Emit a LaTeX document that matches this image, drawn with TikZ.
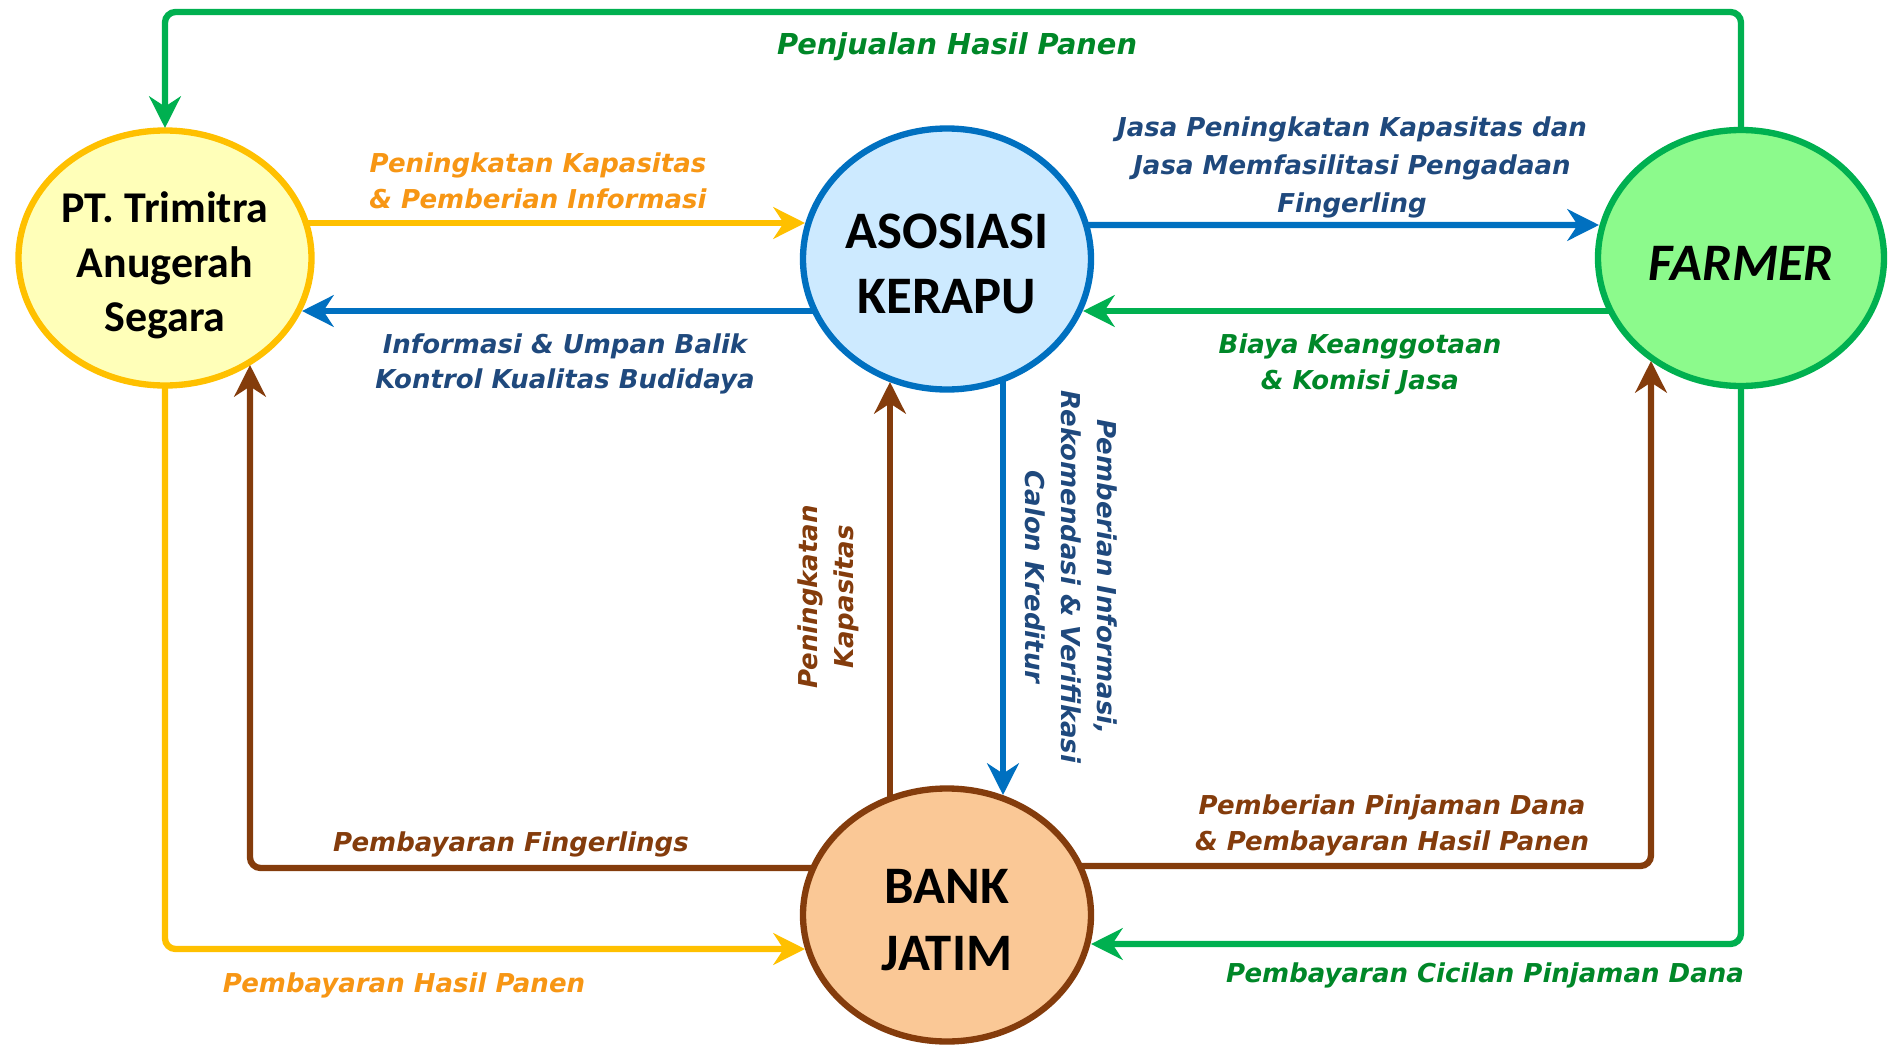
\documentclass[tikz,border=0pt]{standalone}
\usepackage{fontspec}
\setmainfont{Carlito}
\newfontfamily\flowfont{DejaVu Sans}
\usetikzlibrary{shapes,arrows.meta,positioning,calc}
\definecolor{ptyellow}{RGB}{255,192,0}
\definecolor{ptfill}{RGB}{255,255,185}
\definecolor{ptorange}{RGB}{247,150,20}
\definecolor{asblue}{RGB}{0,112,192}
\definecolor{asfill}{RGB}{205,234,255}
\definecolor{astext}{RGB}{31,73,125}
\definecolor{fmgreen}{RGB}{0,176,80}
\definecolor{fmfill}{RGB}{140,250,140}
\definecolor{fmtext}{RGB}{0,135,40}
\definecolor{bkbrown}{RGB}{132,60,12}
\definecolor{bkfill}{RGB}{250,200,150}
\tikzstyle{party} = [ellipse, draw, line width=1.8pt, inner sep=0pt,
  text centered, align=center, font=\bfseries\fontsize{15}{18.5}\selectfont]
\tikzstyle{flow} = [draw, line width=1.8pt, rounded corners=3pt,
  -{Stealth[length=9pt,width=9pt]}]
\tikzstyle{flowlabel} = [inner sep=0pt, align=center,
  font=\flowfont\bfseries\itshape\fontsize{7.4}{10.2}\selectfont]

\begin{document}
\begin{tikzpicture}

  \useasboundingbox (0,0) rectangle (18.9,-10.45);

  %%%%%%%%%%%%%%%%%%%%%%%%%%%%%%%%%%%%%%%%%%%%%%%%%%%%%%%%%%%%%%
  %                    PARTIES                                 %
  %%%%%%%%%%%%%%%%%%%%%%%%%%%%%%%%%%%%%%%%%%%%%%%%%%%%%%%%%%%%%%

  \node [party, draw=ptyellow, fill=ptfill, minimum width=2.93cm, minimum height=2.55cm,
    font=\bfseries\fontsize{12.5}{15.6}\selectfont] (pt) at (1.65,-2.58) {\rule{0pt}{13pt}PT. Trimitra\\Anugerah\\Segara};
  \node [party, draw=asblue, fill=asfill, minimum width=2.88cm, minimum height=2.61cm] (asosiasi) at (9.47,-2.59) {\rule{0pt}{12.5pt}ASOSIASI\\KERAPU};
  \node [party, draw=fmgreen, fill=fmfill, minimum width=2.86cm, minimum height=2.56cm,
    font=\bfseries\itshape\fontsize{15}{18}\selectfont] (farmer) at (17.41,-2.58) {\rule{0pt}{13pt}FARMER};
  \node [party, draw=bkbrown, fill=bkfill, minimum width=2.88cm, minimum height=2.53cm,
    font=\bfseries\fontsize{15}{19.2}\selectfont] (bank) at (9.47,-9.15) {\rule{0pt}{12.5pt}BANK\\JATIM};

  %%%%%%%%%%%%%%%%%%%%%%%%%%%%%%%%%%%%%%%%%%%%%%%%%%%%%%%%%%%%%%
  %                    FLOWS                                   %
  %%%%%%%%%%%%%%%%%%%%%%%%%%%%%%%%%%%%%%%%%%%%%%%%%%%%%%%%%%%%%%

  \draw[flow, fmgreen] ($(farmer.center)+(0,1.28)$) |- (9,-0.12) -| ($(pt.center)+(0,1.30)$);
  \draw[flow, ptyellow] ($(pt.center)+(1.41,0.35)$) -- ($(asosiasi.center)+(-1.42,0.36)$);
  \draw[flow, asblue] ($(asosiasi.center)+(-1.32,-0.52)$) -- ($(pt.center)+(1.37,-0.53)$);
  \draw[flow, asblue] ($(asosiasi.center)+(1.39,0.34)$) -- ($(farmer.center)+(-1.42,0.33)$);
  \draw[flow, fmgreen] ($(farmer.center)+(-1.30,-0.53)$) -- ($(asosiasi.center)+(1.36,-0.52)$);
  \draw[flow, asblue] ($(asosiasi.center)+(0.56,-1.20)$) -- ($(bank.center)+(0.56,1.20)$);
  \draw[flow, bkbrown] ($(bank.center)+(-0.57,1.16)$) -- ($(asosiasi.center)+(-0.57,-1.23)$);
  \draw[flow, bkbrown] ($(bank.center)+(-1.33,0.47)$) -| ($(pt.center)+(0.85,-1.07)$);
  \draw[flow, bkbrown] ($(bank.center)+(1.32,0.49)$) -| ($(farmer.center)+(-0.90,-1.03)$);
  \draw[flow, ptyellow] ($(pt.center)+(0,-1.27)$) |- ($(bank.center)+(-1.42,-0.34)$);
  \draw[flow, fmgreen] ($(farmer.center)+(0,-1.27)$) |- ($(bank.center)+(1.44,-0.29)$);

  %%%%%%%%%%%%%%%%%%%%%%%%%%%%%%%%%%%%%%%%%%%%%%%%%%%%%%%%%%%%%%
  %                    LABELS                                  %
  %%%%%%%%%%%%%%%%%%%%%%%%%%%%%%%%%%%%%%%%%%%%%%%%%%%%%%%%%%%%%%

  \node [flowlabel, fmtext, font=\flowfont\bfseries\itshape\fontsize{8.2}{10.2}\selectfont] (penjualan) at (9.57,-0.47) {Penjualan Hasil Panen};
  \node [flowlabel, ptorange] (peningkatan-info) at (5.38,-1.81) {Peningkatan Kapasitas\\\& Pemberian Informasi};
  \node [flowlabel, astext] (umpan-balik) at (5.65,-3.64) {Informasi \& Umpan Balik\\Kontrol Kualitas Budidaya};
  \node [flowlabel, astext, font=\flowfont\bfseries\itshape\fontsize{7.4}{10.8}\selectfont] (jasa) at (13.52,-1.67) {Jasa Peningkatan Kapasitas dan\\Jasa Memfasilitasi Pengadaan\\Fingerling};
  \node [flowlabel, fmtext] (biaya) at (13.60,-3.64) {Biaya Keanggotaan\\\& Komisi Jasa};
  \node [flowlabel, astext, rotate=-90] (rekomendasi) at (10.71,-5.77) {Pemberian Informasi,\\Rekomendasi \& Verifikasi\\Calon Kreditur};
  \node [flowlabel, bkbrown, rotate=90] (peningkatan) at (8.28,-5.97) {Peningkatan\\Kapasitas};
  \node [flowlabel, bkbrown] (fingerlings) at (5.11,-8.44) {Pembayaran Fingerlings};
  \node [flowlabel, bkbrown] (pinjaman) at (13.92,-8.25) {Pemberian Pinjaman Dana\\\& Pembayaran Hasil Panen};
  \node [flowlabel, ptorange] (hasil-panen) at (4.04,-9.85) {Pembayaran Hasil Panen};
  \node [flowlabel, fmtext] (cicilan) at (14.85,-9.75) {Pembayaran Cicilan Pinjaman Dana};

\end{tikzpicture}
\end{document}
